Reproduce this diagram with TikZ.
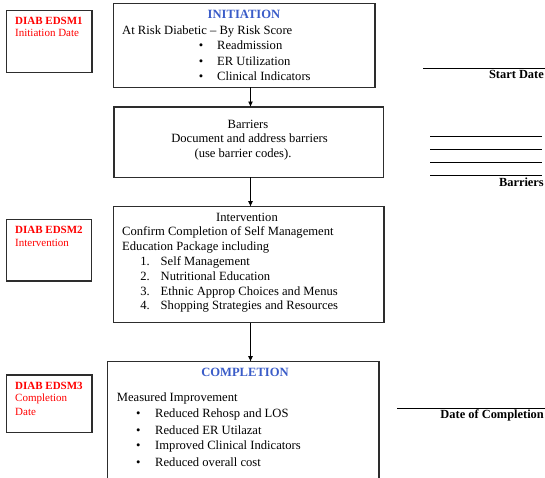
\documentclass[tikz,border=0pt]{standalone}
\usepackage{fontspec}
\setmainfont{Liberation Serif}
\usetikzlibrary{arrows.meta}
\definecolor{boxline}{RGB}{45,45,45}
\definecolor{titleblue}{RGB}{58,92,200}
\definecolor{redlabel}{RGB}{255,0,0}
\begin{document}
\begin{tikzpicture}[x=1pt,y=-1pt,
  box/.style={draw=boxline,line width=1.1pt,fill=none,inner sep=0pt,outer sep=0pt},
  txt/.style={inner sep=0pt,anchor=base west,font=\fontsize{12.6}{15}\selectfont},
  ctxt/.style={txt,anchor=base},
  ttl/.style={inner sep=0pt,anchor=base,text=titleblue,font=\fontsize{12.6}{15}\selectfont\bfseries},
  bul/.style={inner sep=0pt,anchor=base,font=\fontsize{12.6}{15}\selectfont},
  num/.style={inner sep=0pt,anchor=base east,font=\fontsize{12.6}{15}\selectfont},
  redb/.style={inner sep=0pt,anchor=base west,text=redlabel,font=\fontsize{11}{12}\selectfont\bfseries},
  redt/.style={inner sep=0pt,anchor=base west,text=redlabel,font=\fontsize{11}{12}\selectfont},
  rlab/.style={inner sep=0pt,anchor=base east,font=\fontsize{12.4}{14}\selectfont\bfseries},
  rule/.style={line width=0.9pt,draw=black},
  arr/.style={draw=black,line width=0.9pt,-{Latex[length=5.5pt,width=5pt]}}]
\useasboundingbox (0,0) rectangle (545,477);
\clip (0,0) rectangle (545,477);
% left red boxes
\node[box,minimum width=85.3pt,minimum height=62pt] (l1) at (49.35,41.7) {};
\node[box,minimum width=85pt,minimum height=61.7pt] (l2) at (49.2,250.15) {};
\node[box,minimum width=85.3pt,minimum height=57.7pt] (l3) at (49.35,403.85) {};
\node[redb] (l1a) at (15,24) {DIAB EDSM1};
\node[redt] (l1b) at (15,36.7) {Initiation Date};
\node[redb] (l2a) at (15,233.3) {DIAB EDSM2};
\node[redt] (l2b) at (15,246.7) {Intervention};
\node[redb] (l3a) at (15,389) {DIAB EDSM3};
\node[redt] (l3b) at (15,401.7) {Completion};
\node[redt] (l3c) at (15,415) {Date};
% main boxes
\node[box,minimum width=261.7pt,minimum height=84pt] (b1) at (244.15,45.3) {};
\node[box,minimum width=269.3pt,minimum height=70.3pt] (b2) at (248.65,142.15) {};
\node[box,minimum width=270.7pt,minimum height=116pt] (b3) at (248.65,264.7) {};
\node[box,minimum width=271.7pt,minimum height=133.3pt] (b4) at (243.15,428.35) {};
% arrows
\coordinate (ax) at (250.5,0);
\draw[arr] (b1.south -| ax) -- (b2.north -| ax);
\draw[arr] (b2.south -| ax) -- (b3.north -| ax);
\draw[arr] (b3.south -| ax) -- (b4.north -| ax);
% box 1
\node[ttl] (t1) at (244,18.3) {INITIATION};
\node[txt] (t1a) at (122,34) {At Risk Diabetic – By Risk Score};
\node[bul] (t1b1) at (201,49) {•};
\node[txt] (t1b) at (217,49) {Readmission};
\node[bul] (t1c1) at (201,65) {•};
\node[txt] (t1c) at (217,65) {ER Utilization};
\node[bul] (t1d1) at (201,80) {•};
\node[txt] (t1d) at (217,80) {Clinical Indicators};
% box 2
\node[ctxt] (t2a) at (248,128) {Barriers};
\node[ctxt] (t2b) at (249.5,142.7) {Document and address barriers};
\node[ctxt] (t2c) at (243,157) {(use barrier codes).};
% box 3
\node[ctxt] (t3a) at (247,221.7) {Intervention};
\node[txt] (t3b) at (122,235) {Confirm Completion of Self Management};
\node[txt] (t3c) at (122,250) {Education Package including};
\node[num] (n1) at (150,265.5) {1.};
\node[txt] (t3d) at (160.5,265.5) {Self Management};
\node[num] (n2) at (150,280.5) {2.};
\node[txt] (t3e) at (160.5,280.5) {Nutritional Education};
\node[num] (n3) at (150,295) {3.};
\node[txt] (t3f) at (160.5,295) {Ethnic Approp Choices and Menus};
\node[num] (n4) at (150,309.5) {4.};
\node[txt] (t3g) at (160.5,309.5) {Shopping Strategies and Resources};
% box 4
\node[ttl] (t4) at (245,376.7) {COMPLETION};
\node[txt] (t4a) at (116.7,401.7) {Measured Improvement};
\node[bul] (t4b1) at (138.3,417.7) {•};
\node[txt] (t4b) at (155,417.7) {Reduced Rehosp and LOS};
\node[bul] (t4c1) at (138.3,434) {•};
\node[txt] (t4c) at (155,434) {Reduced ER Utilazat};
\node[bul] (t4d1) at (138.3,449) {•};
\node[txt] (t4d) at (155,449) {Improved Clinical Indicators};
\node[bul] (t4e1) at (138.3,466) {•};
\node[txt] (t4e) at (155,466) {Reduced overall cost};
% right side entry lines
\draw[rule] (423.3,68.3) -- (545,68.3);
\node[rlab] (r1) at (544,78.3) {Start Date};
\draw[rule] (430,136) -- (541.7,136);
\draw[rule] (430,149.3) -- (541.7,149.3);
\draw[rule] (430,162.7) -- (541.7,162.7);
\draw[rule] (430,175.8) -- (541.7,175.8);
\node[rlab] (r2) at (544,186.7) {Barriers};
\draw[rule] (397.3,408.3) -- (545,408.3);
\node[rlab] (r3) at (544,418.3) {Date of Completion};
\end{tikzpicture}
\end{document}
